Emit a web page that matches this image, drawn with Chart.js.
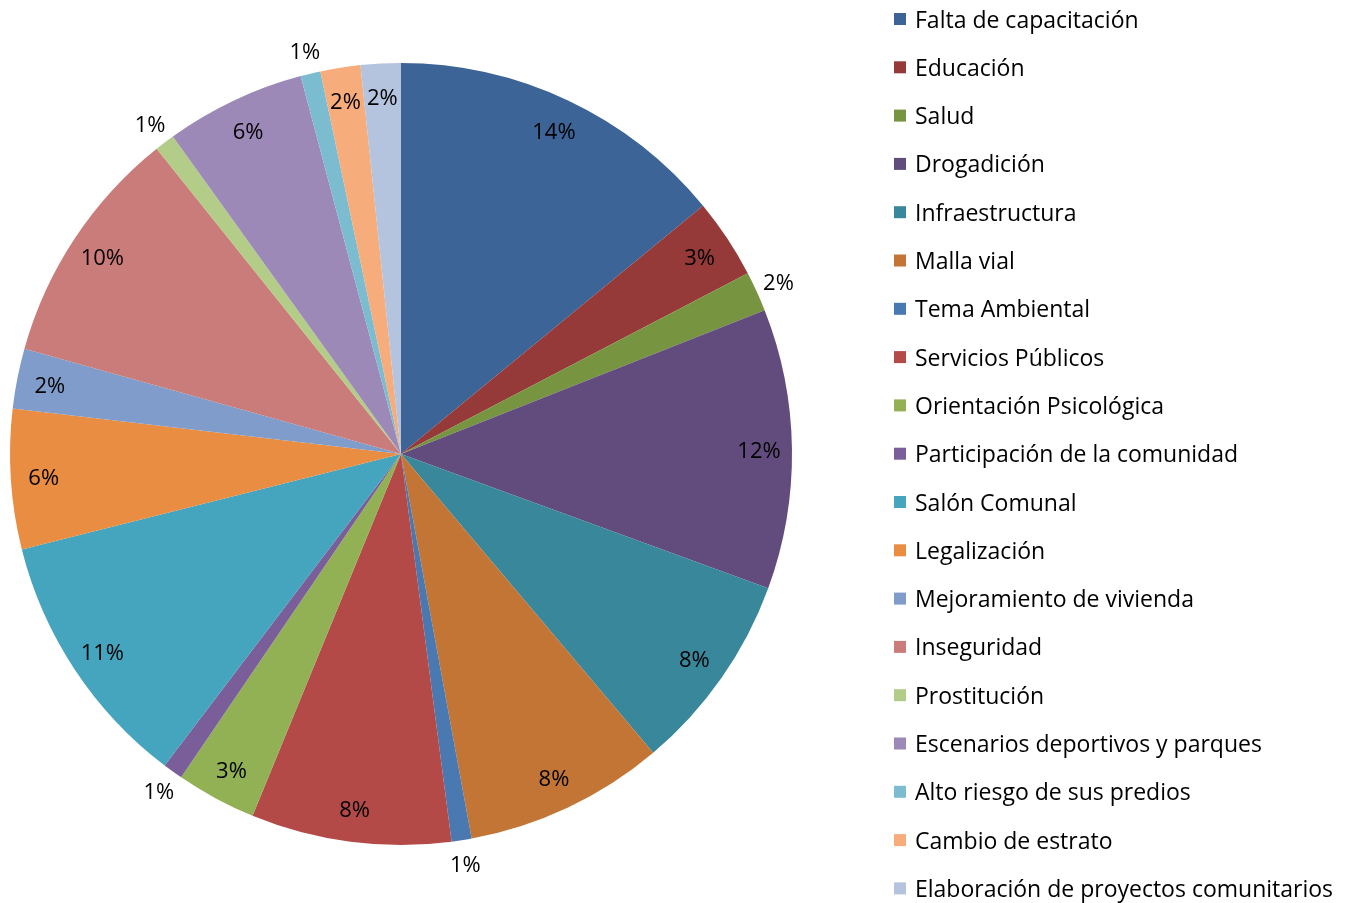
<!DOCTYPE html>
<html>
<head>
<meta charset="utf-8">
<script src="https://cdn.jsdelivr.net/npm/chart.js@4/dist/chart.umd.min.js"></script>
<style>
  html, body { margin: 0; padding: 0; background: #ffffff; }
  #wrap { width: 1359px; height: 903px; position: relative; }
</style>
</head>
<body>
<div id="wrap"><canvas id="c" width="1359" height="903"></canvas></div>
<script>
const categories = [
  "Falta de capacitación",
  "Educación",
  "Salud",
  "Drogadición",
  "Infraestructura",
  "Malla vial",
  "Tema Ambiental",
  "Servicios Públicos",
  "Orientación Psicológica",
  "Participación de la comunidad",
  "Salón Comunal",
  "Legalización",
  "Mejoramiento de vivienda",
  "Inseguridad",
  "Prostitución",
  "Escenarios deportivos y parques",
  "Alto riesgo de sus predios",
  "Cambio de estrato",
  "Elaboración de proyectos comunitarios"
];
const counts = [17, 4, 2, 14, 10, 10, 1, 10, 4, 1, 13, 7, 3, 12, 1, 7, 1, 2, 2];
const colors = [
  "#3C6496", "#953A38", "#779440", "#624C7D", "#38879A", "#C27534",
  "#4A78B0", "#B34A48", "#92B054", "#7A5E99", "#45A4BE", "#E98D42",
  "#7F9CCB", "#C97C7A", "#B3CD88", "#9C89B8", "#7BBCD0", "#F7AC7C", "#B4C3DE"
];
// labels drawn outside the pie (Excel "best fit" result)
const outsideLabels = [2, 6, 9, 14, 16];

const FONT = "'Open Sans', Lato, sans-serif";

const labelPlugin = {
  id: 'pctLabels',
  afterDatasetsDraw(chart) {
    const ctx = chart.ctx;
    const meta = chart.getDatasetMeta(0);
    const data = chart.data.datasets[0].data;
    const total = data.reduce((a, b) => a + b, 0);
    ctx.save();
    ctx.font = "22px " + FONT;
    ctx.fillStyle = "#000";
    ctx.textAlign = "center";
    ctx.textBaseline = "middle";
    meta.data.forEach((arc, i) => {
      const p = arc.getProps(['x', 'y', 'startAngle', 'endAngle', 'outerRadius'], true);
      const mid = (p.startAngle + p.endAngle) / 2;
      const r = outsideLabels.includes(i) ? p.outerRadius + 24 : p.outerRadius - 33;
      const x = p.x + Math.cos(mid) * r;
      const y = p.y + Math.sin(mid) * r + 2;
      const pct = Math.round(data[i] / total * 100) + "%";
      ctx.fillText(pct, x, y);
    });
    ctx.restore();
  }
};

const legendPlugin = {
  id: 'sideLegend',
  afterDraw(chart) {
    const ctx = chart.ctx;
    ctx.save();
    ctx.font = "23px " + FONT;
    ctx.textBaseline = "middle";
    ctx.textAlign = "left";
    const x0 = 894, y0 = 19, step = 48.3;
    categories.forEach((name, i) => {
      const y = y0 + i * step;
      ctx.fillStyle = colors[i];
      ctx.fillRect(x0, y - 6, 12, 12);
      ctx.fillStyle = "#000";
      ctx.fillText(name, x0 + 21, y + 2);
    });
    ctx.restore();
  }
};

new Chart(document.getElementById('c'), {
  type: 'pie',
  data: {
    labels: categories,
    datasets: [{
      data: counts,
      backgroundColor: colors,
      borderWidth: 0
    }]
  },
  options: {
    responsive: false,
    animation: false,
    layout: { padding: { left: 10, top: 63, bottom: 58, right: 567 } },
    plugins: {
      legend: { display: false },
      tooltip: { enabled: false }
    }
  },
  plugins: [labelPlugin, legendPlugin]
});
</script>
</body>
</html>
